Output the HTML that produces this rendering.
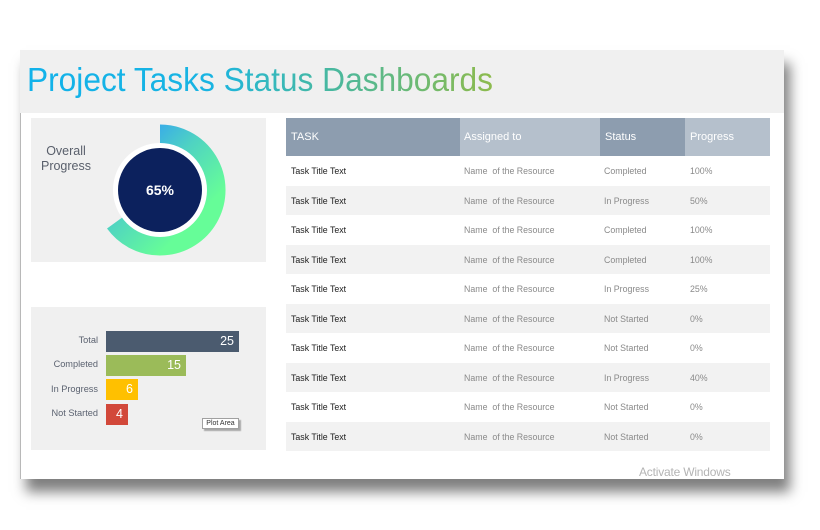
<!DOCTYPE html>
<html>
<head>
<meta charset="utf-8">
<style>
  html,body{margin:0;padding:0;background:#fff;}
  body{width:820px;height:530px;position:relative;overflow:hidden;font-family:"Liberation Sans",Arial,sans-serif;}
  .slide{position:absolute;left:20px;top:50px;width:764px;height:429px;background:#fff;
    box-shadow:6px 13px 12px rgba(0,0,0,0.5);border-left:1px solid #b8b8b8;box-sizing:border-box;}
  .band{position:absolute;left:20px;top:50px;width:764px;height:63px;background:#f0f0f0;}
  .panel{position:absolute;background:#f0f0f0;}
  .abs{position:absolute;}
  .hdr{position:absolute;top:118px;height:38px;color:#fff;font-size:11px;line-height:39px;padding-left:5px;box-sizing:border-box;}
  .row{position:absolute;left:286px;width:484px;height:29.5px;}
  .row.g{background:#f2f2f2;}
  .cell{position:absolute;font-size:8.8px;line-height:30px;top:0;white-space:nowrap;}
  .t{left:5px;color:#1e1e1e;}
  .n{left:178px;color:#8a8a8a;}
  .s{left:318px;color:#8a8a8a;}
  .p{left:404px;color:#8a8a8a;}
  .blab{position:absolute;left:36px;width:62px;text-align:right;font-size:9.2px;color:#5b6270;}
  .bar{position:absolute;left:106px;height:21px;color:#fff;font-size:12.5px;line-height:21px;text-align:right;box-sizing:border-box;padding-right:5px;}
</style>
</head>
<body>
<div class="slide"></div>
<div class="band"></div>

<svg class="abs" style="left:0;top:0" width="820" height="120">
  <defs>
    <linearGradient id="tg" gradientUnits="userSpaceOnUse" x1="27" y1="0" x2="494" y2="0">
      <stop offset="0" stop-color="#12b2ea"/>
      <stop offset="0.40" stop-color="#19b4e2"/>
      <stop offset="0.50" stop-color="#32b8c2"/>
      <stop offset="0.65" stop-color="#48b8a0"/>
      <stop offset="1" stop-color="#8ebb4c"/>
    </linearGradient>
  </defs>
  <text x="27" y="91" font-family="Liberation Sans, Arial, sans-serif" font-size="33.5" fill="url(#tg)" textLength="466" lengthAdjust="spacingAndGlyphs">Project Tasks Status Dashboards</text>
</svg>

<!-- Donut panel -->
<div class="panel" style="left:31px;top:118px;width:235px;height:144px;"></div>
<div class="abs" style="left:31px;top:144px;width:70px;text-align:center;font-size:12.5px;line-height:15px;color:#595f6b;">Overall<br>Progress</div>
<svg class="abs" style="left:0;top:0" width="300" height="280">
  <defs>
    <linearGradient id="dg" gradientUnits="userSpaceOnUse" x1="143" y1="143" x2="207" y2="207">
      <stop offset="0" stop-color="#3aaee6"/>
      <stop offset="0.38" stop-color="#4fd3c2"/>
      <stop offset="1" stop-color="#66fd98"/>
    </linearGradient>
  </defs>
  <path d="M160 134 A56 56 0 1 1 114.7 222.9" fill="none" stroke="url(#dg)" stroke-width="19"/>
  <circle cx="160" cy="190" r="47" fill="#fff"/>
  <circle cx="160" cy="190" r="42" fill="#0c215d"/>
  <text x="160" y="195" text-anchor="middle" font-family="Liberation Sans, Arial, sans-serif" font-size="14" font-weight="bold" fill="#fff">65%</text>
</svg>

<!-- Bar panel -->
<div class="panel" style="left:31px;top:307px;width:235px;height:143px;"></div>
<div class="blab" style="top:335px;">Total</div>
<div class="blab" style="top:359px;">Completed</div>
<div class="blab" style="top:384px;">In Progress</div>
<div class="blab" style="top:408px;">Not Started</div>
<div class="bar" style="top:331px;width:133px;background:#4b5b6f;">25</div>
<div class="bar" style="top:355px;width:80px;background:#9bbb59;">15</div>
<div class="bar" style="top:379px;width:32px;background:#ffc000;">6</div>
<div class="bar" style="top:404px;width:22px;background:#d2483a;">4</div>
<div class="abs" style="left:202px;top:418px;width:37px;height:11px;background:#fff;border:1px solid #a0a0a0;box-sizing:border-box;box-shadow:2px 2px 1px rgba(0,0,0,0.3);font-size:7px;line-height:9px;text-align:center;color:#333;">Plot Area</div>

<!-- Table -->
<div class="hdr" style="left:286px;width:174px;background:#8d9daf;">TASK</div>
<div class="hdr" style="left:460px;width:140px;background:#b5c0cc;padding-left:4px;">Assigned to</div>
<div class="hdr" style="left:600px;width:85px;background:#8d9daf;">Status</div>
<div class="hdr" style="left:685px;width:85px;background:#b5c0cc;">Progress</div>

<div class="row" style="top:156px;"><span class="cell t">Task Title Text</span><span class="cell n">Name&nbsp; of the Resource</span><span class="cell s">Completed</span><span class="cell p">100%</span></div>
<div class="row g" style="top:185.5px;"><span class="cell t">Task Title Text</span><span class="cell n">Name&nbsp; of the Resource</span><span class="cell s">In Progress</span><span class="cell p">50%</span></div>
<div class="row" style="top:215px;"><span class="cell t">Task Title Text</span><span class="cell n">Name&nbsp; of the Resource</span><span class="cell s">Completed</span><span class="cell p">100%</span></div>
<div class="row g" style="top:244.5px;"><span class="cell t">Task Title Text</span><span class="cell n">Name&nbsp; of the Resource</span><span class="cell s">Completed</span><span class="cell p">100%</span></div>
<div class="row" style="top:274px;"><span class="cell t">Task Title Text</span><span class="cell n">Name&nbsp; of the Resource</span><span class="cell s">In Progress</span><span class="cell p">25%</span></div>
<div class="row g" style="top:303.5px;"><span class="cell t">Task Title Text</span><span class="cell n">Name&nbsp; of the Resource</span><span class="cell s">Not Started</span><span class="cell p">0%</span></div>
<div class="row" style="top:333px;"><span class="cell t">Task Title Text</span><span class="cell n">Name&nbsp; of the Resource</span><span class="cell s">Not Started</span><span class="cell p">0%</span></div>
<div class="row g" style="top:362.5px;"><span class="cell t">Task Title Text</span><span class="cell n">Name&nbsp; of the Resource</span><span class="cell s">In Progress</span><span class="cell p">40%</span></div>
<div class="row" style="top:392px;"><span class="cell t">Task Title Text</span><span class="cell n">Name&nbsp; of the Resource</span><span class="cell s">Not Started</span><span class="cell p">0%</span></div>
<div class="row g" style="top:421.5px;"><span class="cell t">Task Title Text</span><span class="cell n">Name&nbsp; of the Resource</span><span class="cell s">Not Started</span><span class="cell p">0%</span></div>

<div class="abs" style="left:639px;top:465px;font-size:12px;color:#b4b4b4;white-space:nowrap;letter-spacing:-0.2px;">Activate Windows</div>
</body>
</html>
